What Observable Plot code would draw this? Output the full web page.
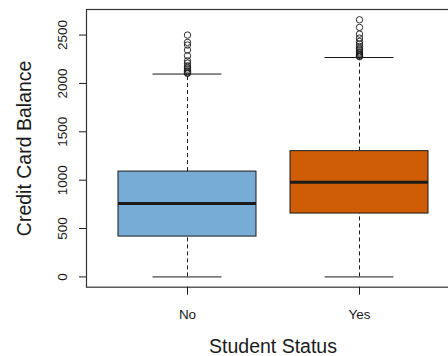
<!DOCTYPE html>
<html>
<head>
<meta charset="utf-8">
<script src="https://cdn.jsdelivr.net/npm/d3@7"></script>
<script src="https://cdn.jsdelivr.net/npm/@observablehq/plot@0.6"></script>
<style>
  html, body { margin: 0; padding: 0; background: #fff; overflow: hidden; }
  #chart svg { overflow: visible; }
</style>
</head>
<body>
<div id="chart"></div>
<script>
// Credit card balance by student status: five-number summaries and outliers
const statuses = ["No", "Yes"];
const lowerWhisker = [0, 0];
const q1 = [417, 655];
const medians = [758, 979];
const q3 = [1089, 1300];
const upperWhisker = [2097, 2268];
const boxColors = ["#76acd6", "#cf5d05"];

const outliersNo = [2500, 2424, 2397, 2345, 2286, 2234, 2210, 2182, 2165, 2148, 2131, 2121, 2110, 2104];
const outliersYes = [2658, 2579, 2510, 2469, 2434, 2407, 2382, 2361, 2345, 2327, 2314, 2303, 2293, 2283, 2276];

const yTicks = [0, 500, 1000, 1500, 2000, 2500];

const stats = statuses.map((s, i) => ({
  status: s, lo: lowerWhisker[i], q1: q1[i], median: medians[i], q3: q3[i], hi: upperWhisker[i], color: boxColors[i]
}));
const outliers = [
  ...outliersNo.map(v => ({status: "No", value: v})),
  ...outliersYes.map(v => ({status: "Yes", value: v}))
];

// y limits padded by 4% of the data range, as in base graphics
const yMax = d3.max([...outliersNo, ...outliersYes, ...upperWhisker]);
const yMin = d3.min(lowerWhisker);
const pad = (yMax - yMin) * 0.04;

const font = "Liberation Sans, Arial, Helvetica, sans-serif";
const ink = "#1a1a1a";

const chart = Plot.plot({
  width: 448,
  height: 356,
  marginLeft: 86,
  marginTop: 9,
  marginBottom: 69.3,
  marginRight: -11,
  style: {fontFamily: font, fontSize: "13.5px", background: "white", color: ink},
  x: {type: "band", domain: statuses, paddingInner: 0.2, paddingOuter: 0.18, axis: null},
  y: {domain: [yMin - pad, yMax + pad], axis: null},
  marks: [
    Plot.frame({stroke: "#333", strokeWidth: 1.2}),
    // whiskers
    Plot.ruleX(stats, {x: "status", y1: "q3", y2: "hi", stroke: ink, strokeDasharray: "4,3"}),
    Plot.ruleX(stats, {x: "status", y1: "lo", y2: "q1", stroke: ink, strokeDasharray: "4,3"}),
    // whisker caps, half the box width
    Plot.tickY(stats, {x: "status", y: "hi", stroke: ink, insetLeft: 34.5, insetRight: 34.5}),
    Plot.tickY(stats, {x: "status", y: "lo", stroke: ink, insetLeft: 34.5, insetRight: 34.5}),
    // boxes
    Plot.barY(stats, {x: "status", y1: "q1", y2: "q3", fill: "color", stroke: ink, strokeWidth: 1}),
    Plot.tickY(stats, {x: "status", y: "median", stroke: ink, strokeWidth: 3}),
    // outliers
    Plot.dot(outliers, {x: "status", y: "value", r: 3.2, stroke: ink, strokeWidth: 0.9, fill: "none"}),
    // axes
    Plot.axisY({
      ticks: yTicks, tickFormat: "d", tickSize: 7, tickPadding: 12.3, tickRotate: -90,
      textAnchor: "middle", lineAnchor: "bottom",
      fontSize: 13.5, label: null, stroke: ink, fill: ink
    }),
    Plot.axisX({
      tickSize: 8, tickPadding: 14, fontSize: 13.5, label: null, stroke: ink, fill: ink
    }),
    Plot.text(["Credit Card Balance"], {
      frameAnchor: "left", dx: -56, rotate: -90, textAnchor: "middle", lineAnchor: "bottom",
      fontSize: 19.5, fill: ink
    }),
    Plot.text(["Student Status"], {
      frameAnchor: "bottom", dy: 65.6, textAnchor: "middle", lineAnchor: "bottom",
      fontSize: 19.5, fill: ink
    })
  ]
});

document.getElementById("chart").appendChild(chart);
</script>
</body>
</html>
